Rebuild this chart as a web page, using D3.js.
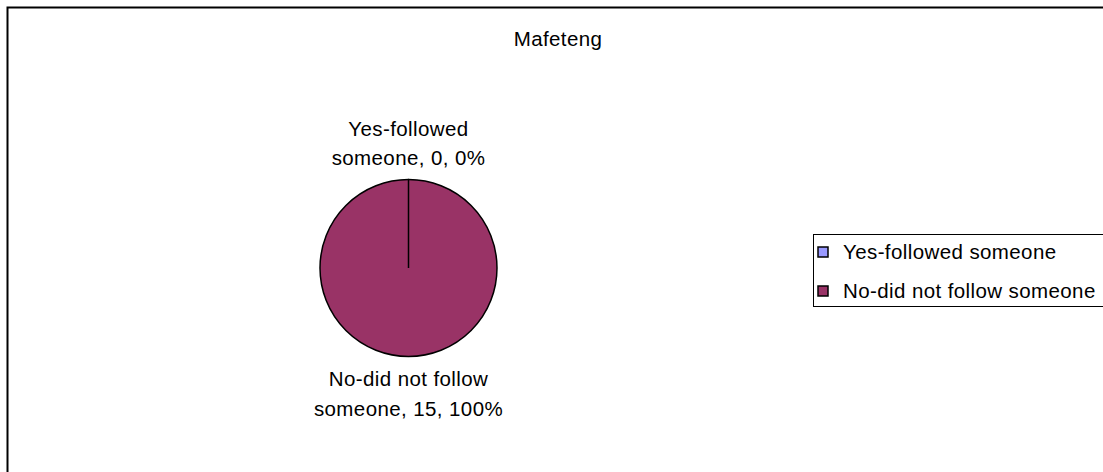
<!DOCTYPE html>
<html>
<head>
<meta charset="utf-8">
<script src="https://cdn.jsdelivr.net/npm/d3@7"></script>
<style>
  html, body { margin: 0; padding: 0; background: #fff; }
  svg { display: block; font-family: "Liberation Sans", Arial, sans-serif; }
</style>
</head>
<body>
<svg id="chart" width="1103" height="472"></svg>
<script>
// Survey answers for Mafeteng
const title = "Mafeteng";
const categories = ["Yes-followed someone", "No-did not follow someone"];
const values = [0, 15];
const colors = ["#9999FF", "#993366"];
// Data labels split into two lines each
const labelLines = [
  ["Yes-followed", "someone, 0, 0%"],
  ["No-did not follow", "someone, 15, 100%"]
];

const svg = d3.select("#chart");
const W = 1103, H = 472;
const FS = 20.5;

// Chart area frame (runs off the right and bottom edges)
svg.append("rect")
  .attr("x", 7.5).attr("y", 7.5)
  .attr("width", W).attr("height", H)
  .attr("fill", "#fff")
  .attr("stroke", "#000").attr("stroke-width", 2);

svg.append("text")
  .attr("x", 558).attr("y", 46)
  .attr("text-anchor", "middle")
  .attr("font-size", FS)
  .attr("letter-spacing", 0.4)
  .text(title);

// Pie
const cx = 408.5, cy = 268, r = 88.5;
const pie = d3.pie().sort(null).value(d => d)(values);
const arc = d3.arc().innerRadius(0).outerRadius(r);
const color = d3.scaleOrdinal().domain(categories).range(colors);

const g = svg.append("g").attr("transform", `translate(${cx},${cy})`);
g.selectAll("path.slice")
  .data(pie)
  .join("path")
  .attr("class", "slice")
  .attr("d", arc)
  .attr("fill", (d, i) => color(categories[i]))
  .attr("stroke", "#000")
  .attr("stroke-width", 1.5)
  .attr("stroke-linejoin", "round");

// Radial edge where the empty slice sits
g.append("line")
  .attr("x1", 0).attr("y1", 0)
  .attr("x2", 0).attr("y2", -r)
  .attr("stroke", "#000").attr("stroke-width", 1.5);

// Data labels: above the pie for the zero slice, below for the full slice
const labelY = [[136, 165], [386, 416]];
labelLines.forEach((lines, i) => {
  lines.forEach((t, j) => {
    svg.append("text")
      .attr("x", cx).attr("y", labelY[i][j])
      .attr("text-anchor", "middle")
      .attr("font-size", FS)
      .attr("letter-spacing", 0.4)
      .text(t);
  });
});

// Legend
const lg = svg.append("g");
lg.append("rect")
  .attr("x", 813.5).attr("y", 234.5)
  .attr("width", 300).attr("height", 72)
  .attr("fill", "#fff")
  .attr("stroke", "#000").attr("stroke-width", 1);

const rowY = [252, 291];
categories.forEach((c, i) => {
  lg.append("rect")
    .attr("x", 818).attr("y", rowY[i] - 5)
    .attr("width", 10).attr("height", 10)
    .attr("fill", color(c))
    .attr("stroke", "#000").attr("stroke-width", 1.5);
  lg.append("text")
    .attr("x", 843).attr("y", rowY[i] + 7)
    .attr("font-size", FS)
    .attr("letter-spacing", 0.4)
    .text(c);
});
</script>
</body>
</html>
